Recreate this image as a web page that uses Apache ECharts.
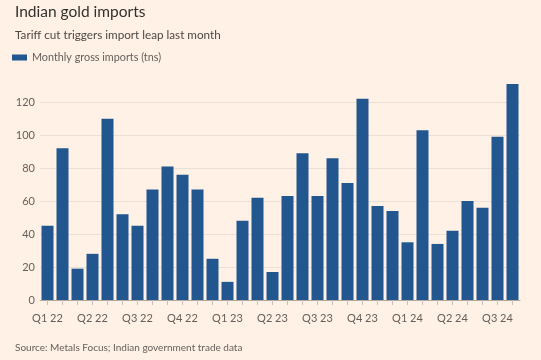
<!DOCTYPE html>
<html><head><meta charset="utf-8">
<script src="https://cdn.jsdelivr.net/npm/echarts@6/dist/echarts.min.js"></script>
<style>html,body{margin:0;padding:0;background:#FFF1E5;}#c{width:541px;height:360px;}</style>
</head><body><div id="c"></div>
<script>
const months = ['Jan 22','Feb 22','Mar 22','Apr 22','May 22','Jun 22','Jul 22','Aug 22','Sep 22','Oct 22','Nov 22','Dec 22',
  'Jan 23','Feb 23','Mar 23','Apr 23','May 23','Jun 23','Jul 23','Aug 23','Sep 23','Oct 23','Nov 23','Dec 23',
  'Jan 24','Feb 24','Mar 24','Apr 24','May 24','Jun 24','Jul 24','Aug 24'];
const imports = [45,92,19,28,110,52,45,67,81,76,67,25,11,48,62,17,63,89,63,86,71,122,57,54,35,103,34,42,60,56,99,131];
const quarterLabels = ['Q1 22','Q2 22','Q3 22','Q4 22','Q1 23','Q2 23','Q3 23','Q4 23','Q1 24','Q2 24','Q3 24'];
const yTicks = [0,20,40,60,80,100,120];

const font = 'Lato, sans-serif';
const chart = echarts.init(document.getElementById('c'));
chart.setOption({
  backgroundColor: '#FFF1E5',
  animation: false,
  textStyle: { fontFamily: font },
  title: [
    { text: 'Indian gold imports', left: 10, top: -1, textStyle: { fontFamily: font, fontSize: 15.5, fontWeight: 'normal', color: '#33302e' } },
    { text: 'Tariff cut triggers import leap last month', left: 10, top: 24, textStyle: { fontFamily: font, fontSize: 11.7, fontWeight: 'normal', color: '#4d4845' } },
    { text: 'Source: Metals Focus; Indian government trade data', left: 10, top: 338, textStyle: { fontFamily: font, fontSize: 10, fontWeight: 'normal', color: '#66605c' } }
  ],
  legend: {
    left: 7, top: 47, itemWidth: 15, itemHeight: 6, itemGap: 6,
    icon: 'rect',
    textStyle: { fontFamily: font, fontSize: 10.8, color: '#66605c' },
    data: ['Monthly gross imports (tns)']
  },
  grid: { left: 40, right: 21, top: 84, bottom: 60, containLabel: false },
  xAxis: {
    type: 'category', data: months,
    axisLine: { lineStyle: { color: '#b3aaa2' } },
    axisTick: { show: true, alignWithLabel: true, interval: 0, length: 5, lineStyle: { color: '#c9bfb6' } },
    axisLabel: {
      interval: 0, margin: 13, fontFamily: font, fontSize: 11, color: '#66605c',
      formatter: (v, i) => (i % 3 === 0 ? quarterLabels[i / 3] : '')
    }
  },
  yAxis: {
    type: 'value', min: 0, max: 'dataMax', interval: 20,
    axisLine: { show: false }, axisTick: { show: false },
    axisLabel: {
      margin: 5, fontFamily: font, fontSize: 11, color: '#66605c',
      formatter: v => (yTicks.indexOf(v) >= 0 ? String(v) : '')
    },
    splitLine: { show: true, showMaxLine: false, lineStyle: { color: '#ebe0d6' } }
  },
  series: [{
    name: 'Monthly gross imports (tns)', type: 'bar', data: imports,
    barCategoryGap: '20%',
    itemStyle: { color: '#22568f' }
  }]
});
</script></body></html>
